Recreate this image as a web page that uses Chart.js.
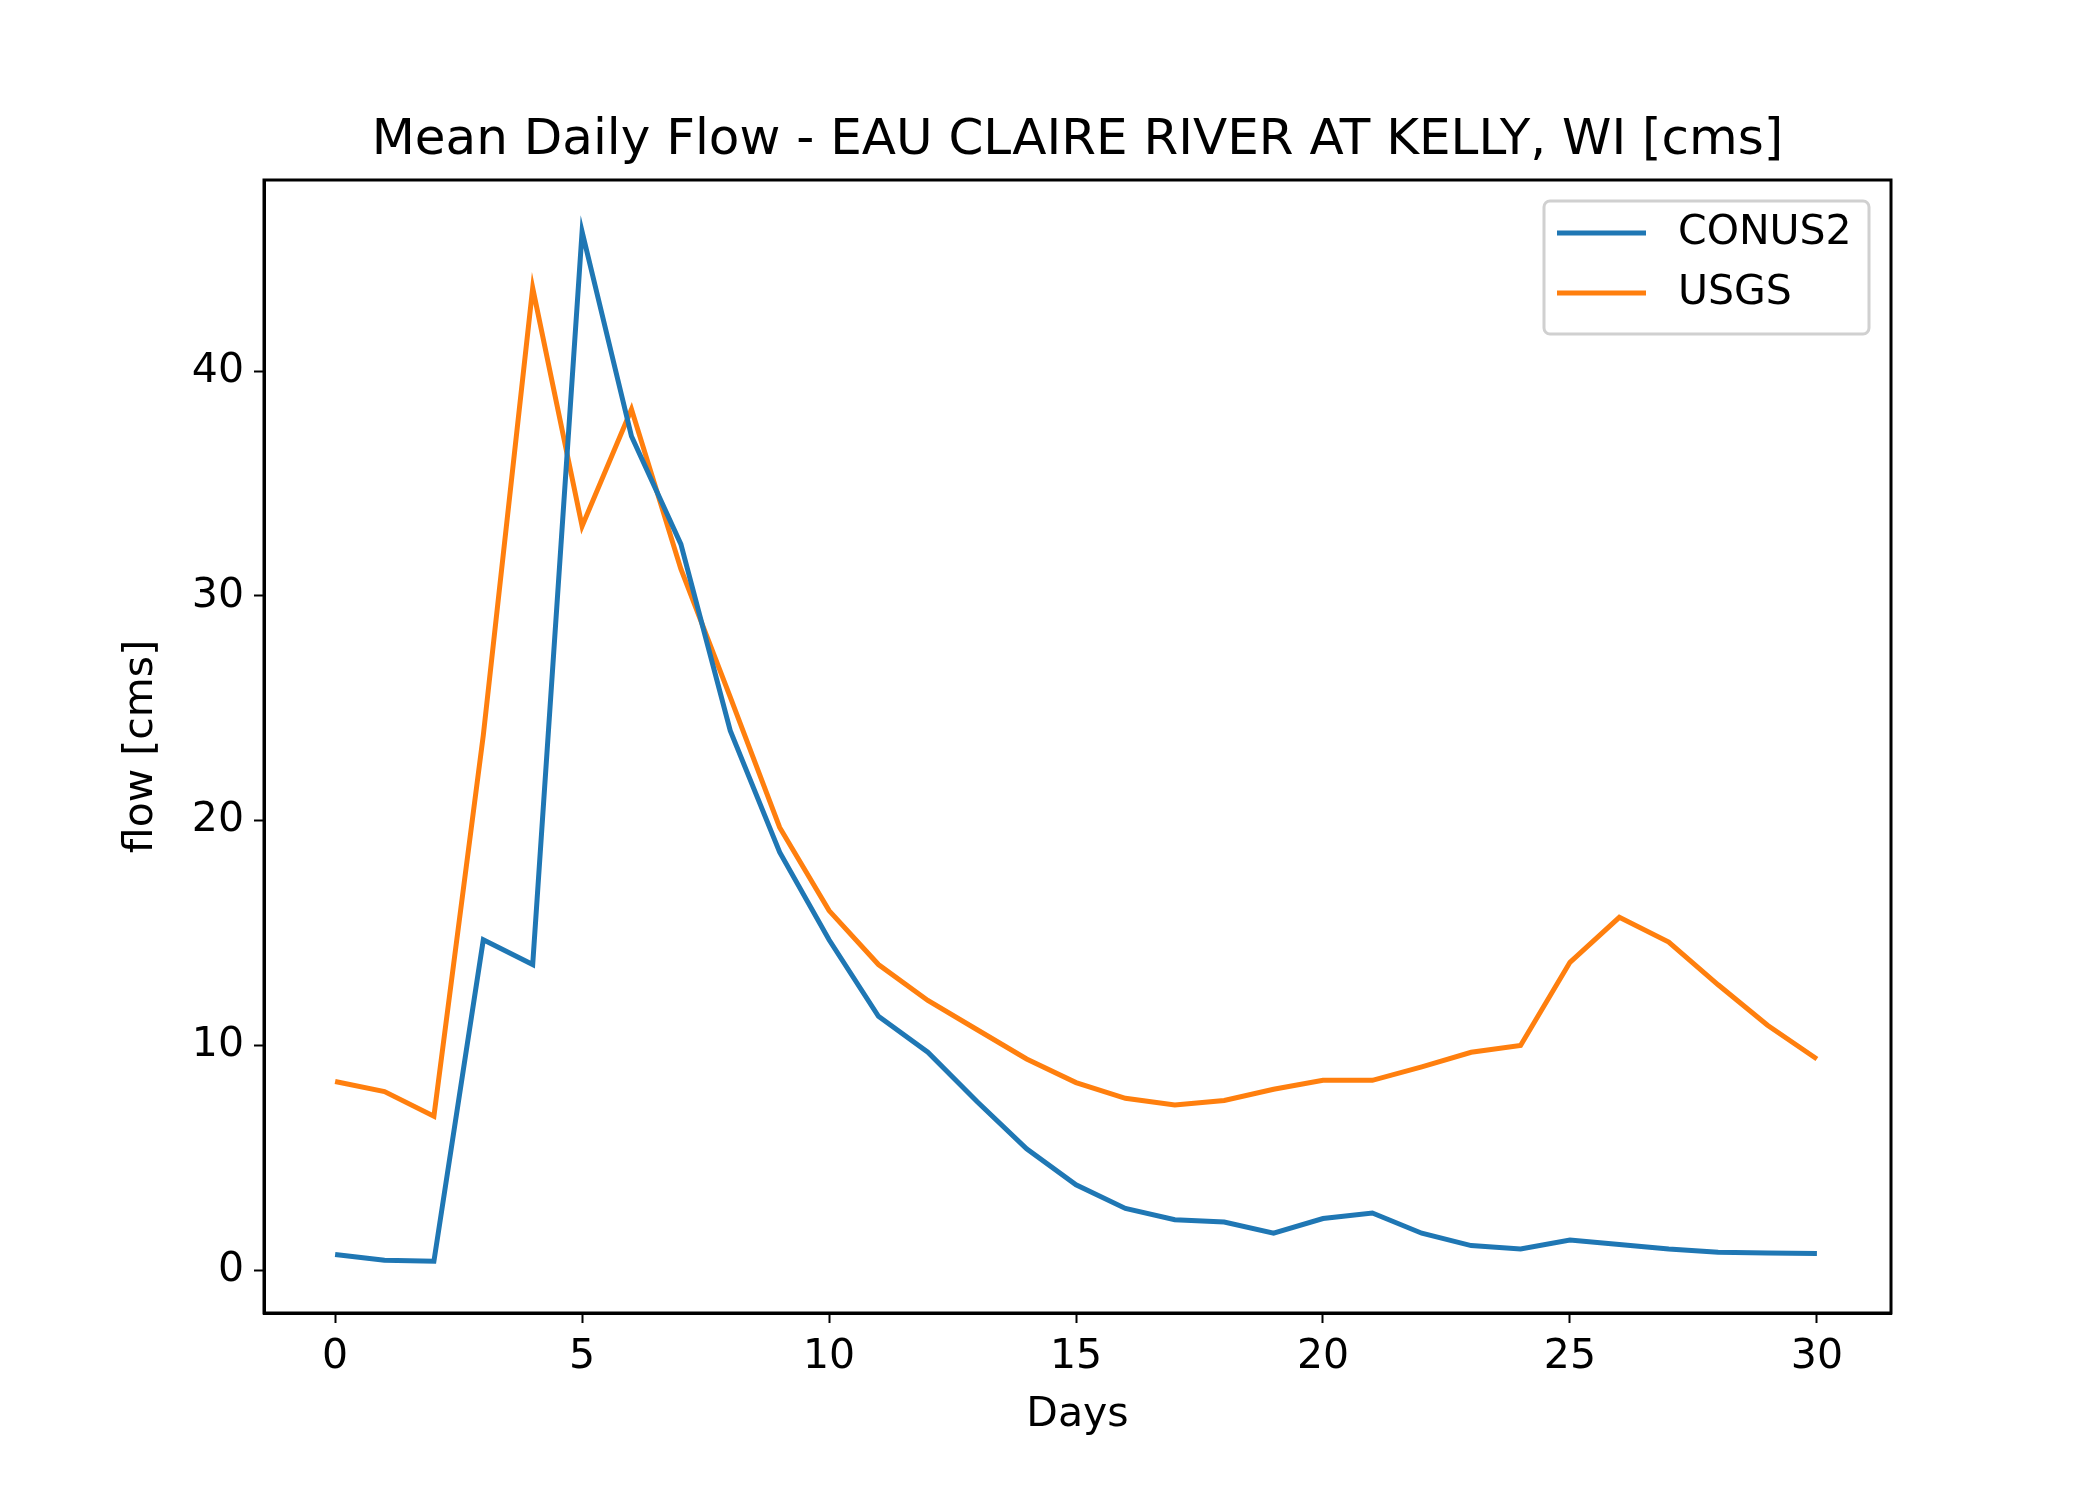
<!DOCTYPE html>
<html>
<head>
<meta charset="utf-8">
<script src="https://cdn.jsdelivr.net/npm/chart.js@4"></script>
<style>
  html, body { margin: 0; padding: 0; background: #fff; }
  #wrap { width: 2100px; height: 1500px; }
</style>
</head>
<body>
<div id="wrap"><canvas id="flowChart" width="2100" height="1500"></canvas></div>
<script>
// Daily flow values
const days = [0,1,2,3,4,5,6,7,8,9,10,11,12,13,14,15,16,17,18,19,20,21,22,23,24,25,26,27,28,29,30];
const conus2 = [0.7,0.45,0.4,14.7,13.6,46.2,37.1,32.3,24.0,18.6,14.7,11.3,9.7,7.5,5.4,3.8,2.75,2.25,2.15,1.65,2.3,2.55,1.65,1.1,0.95,1.35,1.15,0.95,0.8,0.77,0.75];
const usgs = [8.4,7.95,6.85,23.8,43.7,33.1,38.3,31.2,25.5,19.7,16.0,13.6,12.0,10.7,9.4,8.35,7.65,7.35,7.55,8.05,8.45,8.45,9.05,9.7,10.0,13.7,15.7,14.6,12.7,10.9,9.4];
const xTicks = [0,5,10,15,20,25,30];
const yTicks = [0,10,20,30,40];

const seriesNames = ['CONUS2', 'USGS'];
const seriesColors = ['#1f77b4', '#ff7f0e'];

const FONT = "'DejaVu Sans', sans-serif";
const AREA = { left: 264, top: 180, right: 1891, bottom: 1313 };

// frame, title, axis labels and legend drawn matplotlib style
const decorations = {
    id: 'decorations',
    afterDraw(chart) {
        const c = chart.ctx;
        const a = chart.chartArea;
        c.save();
        c.strokeStyle = '#000';
        c.lineWidth = 3;
        c.strokeRect(a.left, a.top, a.right - a.left, a.bottom - a.top);

        c.fillStyle = '#000';
        c.textAlign = 'center';
        c.textBaseline = 'alphabetic';
        c.font = '50px ' + FONT;
        c.fillText('Mean Daily Flow - EAU CLAIRE RIVER AT KELLY, WI [cms]', (a.left + a.right) / 2, 154);

        c.font = '41px ' + FONT;
        c.textBaseline = 'middle';
        c.fillText('Days', (a.left + a.right) / 2, 1415);
        c.save();
        c.translate(141, (a.top + a.bottom) / 2);
        c.rotate(-Math.PI / 2);
        c.fillText('flow [cms]', 0, 0);
        c.restore();

        // legend
        const lx = 1544, ly = 201, lw = 325, lh = 133;
        c.beginPath();
        c.roundRect(lx, ly, lw, lh, 6);
        c.fillStyle = 'rgba(255,255,255,0.8)';
        c.fill();
        c.strokeStyle = '#d0d0d0';
        c.lineWidth = 3;
        c.stroke();
        c.textAlign = 'left';
        seriesNames.forEach((name, i) => {
            const y = 233 + i * 60;
            c.strokeStyle = seriesColors[i];
            c.lineWidth = 5;
            c.beginPath();
            c.moveTo(1557, y);
            c.lineTo(1646, y);
            c.stroke();
            c.fillStyle = '#000';
            c.fillText(name, 1678, y);
        });
        c.restore();
    }
};

new Chart(document.getElementById('flowChart'), {
    type: 'line',
    data: {
        datasets: [
            {
                label: seriesNames[0],
                data: days.map((d, i) => ({ x: d, y: conus2[i] })),
                borderColor: seriesColors[0],
                borderWidth: 5,
                pointRadius: 0,
                tension: 0
            },
            {
                label: seriesNames[1],
                data: days.map((d, i) => ({ x: d, y: usgs[i] })),
                borderColor: seriesColors[1],
                borderWidth: 5,
                pointRadius: 0,
                tension: 0
            }
        ]
    },
    options: {
        responsive: false,
        animation: false,
        devicePixelRatio: 1,
        layout: { padding: { left: 0, top: AREA.top, right: 2100 - AREA.right, bottom: 0 } },
        plugins: { legend: { display: false }, title: { display: false }, tooltip: { enabled: false } },
        scales: {
            x: {
                type: 'linear',
                min: -1.44,
                max: 31.5,
                afterBuildTicks: s => { s.ticks = xTicks.map(v => ({ value: v })); },
                afterFit: s => { s.height = 1500 - AREA.bottom; },
                grid: { drawOnChartArea: false, drawTicks: true, tickLength: 10, tickColor: '#000', tickWidth: 2 },
                border: { display: true, color: '#000', width: 3 },
                ticks: { color: '#000', font: { family: FONT, size: 41 }, padding: 10, maxRotation: 0 }
            },
            y: {
                type: 'linear',
                min: -1.9,
                max: 48.5,
                afterBuildTicks: s => { s.ticks = yTicks.map(v => ({ value: v })); },
                afterFit: s => { s.width = AREA.left; },
                grid: { drawOnChartArea: false, drawTicks: true, tickLength: 10, tickColor: '#000', tickWidth: 2 },
                border: { display: true, color: '#000', width: 3 },
                ticks: { color: '#000', font: { family: FONT, size: 41 }, padding: 10 }
            }
        }
    },
    plugins: [decorations]
});
</script>
</body>
</html>
